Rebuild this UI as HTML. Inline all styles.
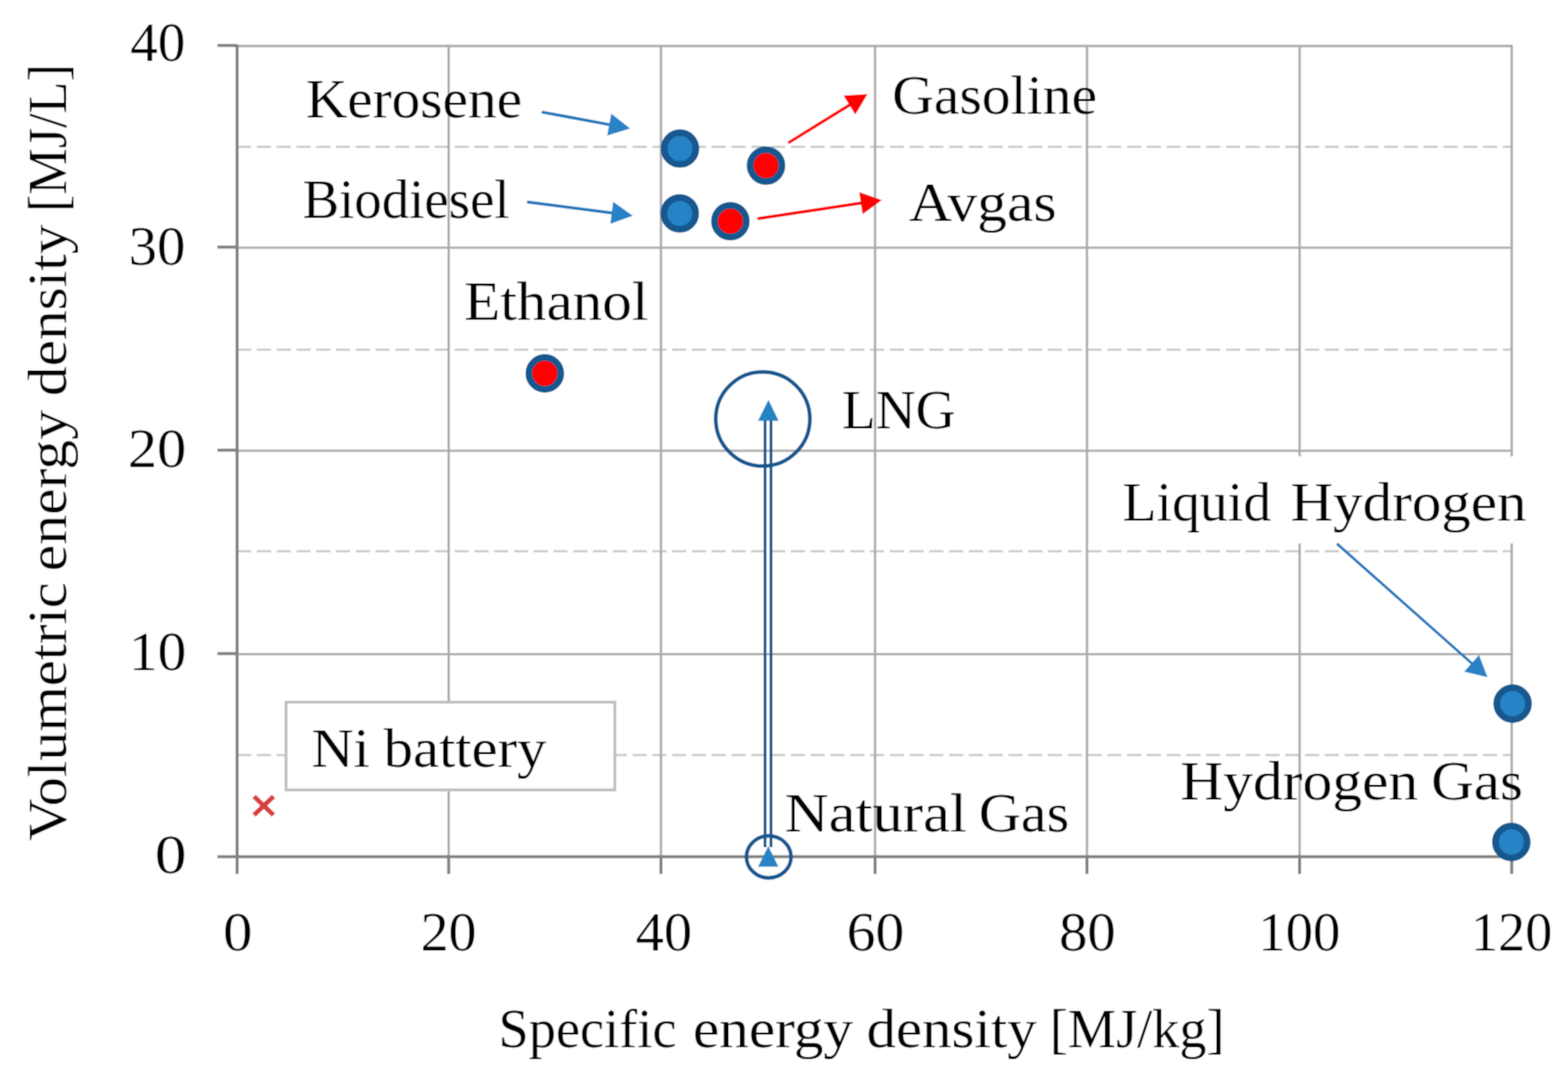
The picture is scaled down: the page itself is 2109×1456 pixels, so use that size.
<!DOCTYPE html>
<html><head><meta charset="utf-8"><style>
html,body{margin:0;padding:0;background:#fff;}
svg{display:block;}
text{font-family:"Liberation Serif", serif;font-size:74px;fill:#000;}
</style></head><body>
<svg xmlns="http://www.w3.org/2000/svg" width="2109" height="1456" viewBox="0 0 2109 1456">
<defs><filter id="soft" filterUnits="userSpaceOnUse" x="0" y="0" width="2109" height="1456"><feConvolveMatrix order="3" kernelMatrix="1 2 1 2 4 2 1 2 1" divisor="16" edgeMode="duplicate" preserveAlpha="false"/></filter></defs>
<g filter="url(#soft)">
<rect width="2109" height="1456" fill="#fff"/>
<line x1="318.9" y1="197.3" x2="2033.3" y2="197.3" stroke="#c6c6c6" stroke-width="2.8" stroke-dasharray="19 7.6"/>
<line x1="318.9" y1="470.2" x2="2033.3" y2="470.2" stroke="#c6c6c6" stroke-width="2.8" stroke-dasharray="19 7.6"/>
<line x1="318.9" y1="741.2" x2="2033.3" y2="741.2" stroke="#c6c6c6" stroke-width="2.8" stroke-dasharray="19 7.6"/>
<line x1="318.9" y1="1015.2" x2="2033.3" y2="1015.2" stroke="#c6c6c6" stroke-width="2.8" stroke-dasharray="19 7.6"/>
<line x1="318.9" y1="879.5" x2="2034.9" y2="879.5" stroke="#ababab" stroke-width="3.2"/>
<line x1="318.9" y1="606.0" x2="2034.9" y2="606.0" stroke="#ababab" stroke-width="3.2"/>
<line x1="318.9" y1="333.0" x2="2034.9" y2="333.0" stroke="#ababab" stroke-width="3.2"/>
<line x1="318.9" y1="61.9" x2="2034.9" y2="61.9" stroke="#ababab" stroke-width="3.2"/>
<line x1="603.5" y1="60.3" x2="603.5" y2="1151.8" stroke="#ababab" stroke-width="3.2"/>
<line x1="889.0" y1="60.3" x2="889.0" y2="1151.8" stroke="#ababab" stroke-width="3.2"/>
<line x1="1177.0" y1="60.3" x2="1177.0" y2="1151.8" stroke="#ababab" stroke-width="3.2"/>
<line x1="1462.0" y1="60.3" x2="1462.0" y2="1151.8" stroke="#ababab" stroke-width="3.2"/>
<line x1="1748.0" y1="60.3" x2="1748.0" y2="1151.8" stroke="#ababab" stroke-width="3.2"/>
<line x1="2033.3" y1="60.3" x2="2033.3" y2="1151.8" stroke="#ababab" stroke-width="3.2"/>
<rect x="1490" y="613.5" width="600" height="117" fill="#fff"/>
<line x1="318.9" y1="60.1" x2="318.9" y2="1175" stroke="#828282" stroke-width="4.1"/>
<line x1="292.5" y1="1151.8" x2="2035.2" y2="1151.8" stroke="#828282" stroke-width="4.1"/>
<line x1="292.5" y1="878.7" x2="318.9" y2="878.7" stroke="#828282" stroke-width="4.1"/>
<line x1="292.5" y1="605.2" x2="318.9" y2="605.2" stroke="#828282" stroke-width="4.1"/>
<line x1="292.5" y1="332.2" x2="318.9" y2="332.2" stroke="#828282" stroke-width="4.1"/>
<line x1="292.5" y1="61.1" x2="318.9" y2="61.1" stroke="#828282" stroke-width="4.1"/>
<line x1="603.5" y1="1151.8" x2="603.5" y2="1175" stroke="#828282" stroke-width="4.1"/>
<line x1="889.0" y1="1151.8" x2="889.0" y2="1175" stroke="#828282" stroke-width="4.1"/>
<line x1="1177.0" y1="1151.8" x2="1177.0" y2="1175" stroke="#828282" stroke-width="4.1"/>
<line x1="1462.0" y1="1151.8" x2="1462.0" y2="1175" stroke="#828282" stroke-width="4.1"/>
<line x1="1748.0" y1="1151.8" x2="1748.0" y2="1175" stroke="#828282" stroke-width="4.1"/>
<line x1="2033.3" y1="1151.8" x2="2033.3" y2="1175" stroke="#828282" stroke-width="4.1"/>
<rect x="384.7" y="944" width="442.3" height="118" fill="#fff" stroke="#bfbfbf" stroke-width="3.8"/>
<g stroke="#d94141" stroke-width="6.5" stroke-linecap="square"><line x1="344" y1="1073" x2="365.5" y2="1093.5"/><line x1="365.5" y1="1073" x2="344" y2="1093.5"/></g>
<circle cx="914.6" cy="199.7" r="21.4" fill="#2683c5" stroke="#12588f" stroke-width="9"/>
<circle cx="1030.3" cy="222.6" r="21.4" fill="#ff0000" stroke="#12588f" stroke-width="9"/>
<circle cx="914.3" cy="286.9" r="21.4" fill="#2683c5" stroke="#12588f" stroke-width="9"/>
<circle cx="982.4" cy="297.4" r="21.4" fill="#ff0000" stroke="#12588f" stroke-width="9"/>
<circle cx="732.8" cy="502" r="21.4" fill="#ff0000" stroke="#12588f" stroke-width="9"/>
<circle cx="2034.5" cy="946" r="21.4" fill="#2683c5" stroke="#12588f" stroke-width="9"/>
<circle cx="2032.8" cy="1132" r="21.4" fill="#2683c5" stroke="#12588f" stroke-width="9"/>
<circle cx="1026" cy="563.3" r="63.3" fill="none" stroke="#12588f" stroke-width="5"/>
<ellipse cx="1034" cy="1152" rx="30" ry="28.2" fill="none" stroke="#12588f" stroke-width="5"/>
<line x1="1029" y1="565" x2="1029" y2="1139" stroke="#12588f" stroke-width="3.8"/>
<line x1="1037" y1="565" x2="1037" y2="1139" stroke="#12588f" stroke-width="3.8"/>
<polygon points="1033.6,537.5 1047.3,565.7 1019.5,565.7" fill="#2683c5"/>
<polygon points="1033.4,1137.4 1047,1165.3 1019.6,1165.3" fill="#2683c5"/>
<line x1="728.6" y1="150.6" x2="821.4" y2="167.9" stroke="#2277bd" stroke-width="4"/><polygon points="847.5,172.7 816.7,182.2 822.2,152.7" fill="#2a82c6"/>
<line x1="708.9" y1="271.4" x2="824.8" y2="286.5" stroke="#2277bd" stroke-width="4"/><polygon points="851.1,289.9 820.9,301.1 824.8,271.3" fill="#2a82c6"/>
<line x1="1798.2" y1="730.9" x2="1980.9" y2="893.0" stroke="#2277bd" stroke-width="3.6"/><polygon points="2000.7,910.6 1969.4,902.9 1989.3,880.5" fill="#2a82c6"/>
<line x1="1060.2" y1="192.1" x2="1144.2" y2="140.3" stroke="#ff0000" stroke-width="4"/><polygon points="1166.8,126.4 1150.4,154.1 1134.7,128.6" fill="#ff0000"/>
<line x1="1018.8" y1="294.1" x2="1159.9" y2="272.8" stroke="#ff0000" stroke-width="4"/><polygon points="1186.1,268.9 1160.2,288.0 1155.7,258.3" fill="#ff0000"/>
<text id="kero" x="411.5" y="158.3" textLength="290.6" lengthAdjust="spacingAndGlyphs">Kerosene</text>
<text id="bio" x="406.9" y="292.7" textLength="278.6" lengthAdjust="spacingAndGlyphs">Biodiesel</text>
<text id="gas" x="1200.0" y="152.8" textLength="275.6" lengthAdjust="spacingAndGlyphs">Gasoline</text>
<text id="avg" x="1222.4" y="297.3" textLength="198.8" lengthAdjust="spacingAndGlyphs">Avgas</text>
<text id="eth" x="624.3" y="429.7" textLength="247.8" lengthAdjust="spacingAndGlyphs">Ethanol</text>
<text id="lng" x="1132.6" y="575.5" textLength="152.4" lengthAdjust="spacingAndGlyphs">LNG</text>
<text id="lh2a" x="1509.8" y="699.8" textLength="199.8" lengthAdjust="spacingAndGlyphs">Liquid</text>
<text id="lh2b" x="1735.7" y="699.8" textLength="317.6" lengthAdjust="spacingAndGlyphs">Hydrogen</text>
<text id="h2ga" x="1587.6" y="1075.1" textLength="319.8" lengthAdjust="spacingAndGlyphs">Hydrogen</text>
<text id="h2gb" x="1925.0" y="1075.1" textLength="123.3" lengthAdjust="spacingAndGlyphs">Gas</text>
<text id="nga" x="1055.5" y="1118.0" textLength="245.0" lengthAdjust="spacingAndGlyphs">Natural</text>
<text id="ngb" x="1316.6" y="1118.0" textLength="121.5" lengthAdjust="spacingAndGlyphs">Gas</text>
<text id="nia" x="419.0" y="1030.6" textLength="78.3" lengthAdjust="spacingAndGlyphs">Ni</text>
<text id="nib" x="516.0" y="1030.6" textLength="219.0" lengthAdjust="spacingAndGlyphs">battery</text>
<text id="xta" x="670.5" y="1407.7" textLength="239.4" lengthAdjust="spacingAndGlyphs">Specific</text>
<text id="xtb" x="931.9" y="1407.7" textLength="215.6" lengthAdjust="spacingAndGlyphs">energy</text>
<text id="xtc" x="1165.5" y="1407.7" textLength="228.8" lengthAdjust="spacingAndGlyphs">density</text>
<text id="xtd" x="1412.0" y="1407.7" textLength="235.1" lengthAdjust="spacingAndGlyphs">[MJ/kg]</text>
<text id="yta" transform="translate(88.6,1130.5) rotate(-90)" x="0" y="0" textLength="347.6" lengthAdjust="spacingAndGlyphs" font-size="72.5">Volumetric</text>
<text id="ytb" transform="translate(88.6,767.9) rotate(-90)" x="0" y="0" textLength="216.7" lengthAdjust="spacingAndGlyphs" font-size="72.5">energy</text>
<text id="ytc" transform="translate(88.6,532.4) rotate(-90)" x="0" y="0" textLength="230.5" lengthAdjust="spacingAndGlyphs" font-size="72.5">density</text>
<text id="ytd" transform="translate(88.6,285.1) rotate(-90)" x="0" y="0" textLength="198.9" lengthAdjust="spacingAndGlyphs" font-size="72.5">[MJ/L]</text>
<text id="y40" x="175.2" y="82.0" textLength="74.0" lengthAdjust="spacingAndGlyphs">40</text>
<text id="y30" x="173.0" y="355.5" textLength="76.3" lengthAdjust="spacingAndGlyphs">30</text>
<text id="y20" x="172.0" y="628.2" textLength="78.5" lengthAdjust="spacingAndGlyphs">20</text>
<text id="y10" x="173.5" y="901.0" textLength="77.0" lengthAdjust="spacingAndGlyphs">10</text>
<text id="y0" x="208.3" y="1173.5" textLength="42.6" lengthAdjust="spacingAndGlyphs">0</text>
<text id="x0" x="299.9" y="1277.8" textLength="39.5" lengthAdjust="spacingAndGlyphs">0</text>
<text id="x20" x="565.7" y="1277.8" textLength="75.2" lengthAdjust="spacingAndGlyphs">20</text>
<text id="x40" x="855.1" y="1277.8" textLength="75.7" lengthAdjust="spacingAndGlyphs">40</text>
<text id="x60" x="1138.7" y="1277.8" textLength="77.6" lengthAdjust="spacingAndGlyphs">60</text>
<text id="x80" x="1424.5" y="1277.8" textLength="76.2" lengthAdjust="spacingAndGlyphs">80</text>
<text id="x100" x="1692.5" y="1277.8" textLength="110.3" lengthAdjust="spacingAndGlyphs">100</text>
<text id="x120" x="1978.6" y="1277.8" textLength="109.2" lengthAdjust="spacingAndGlyphs">120</text>
</g>
</svg>
</body></html>
